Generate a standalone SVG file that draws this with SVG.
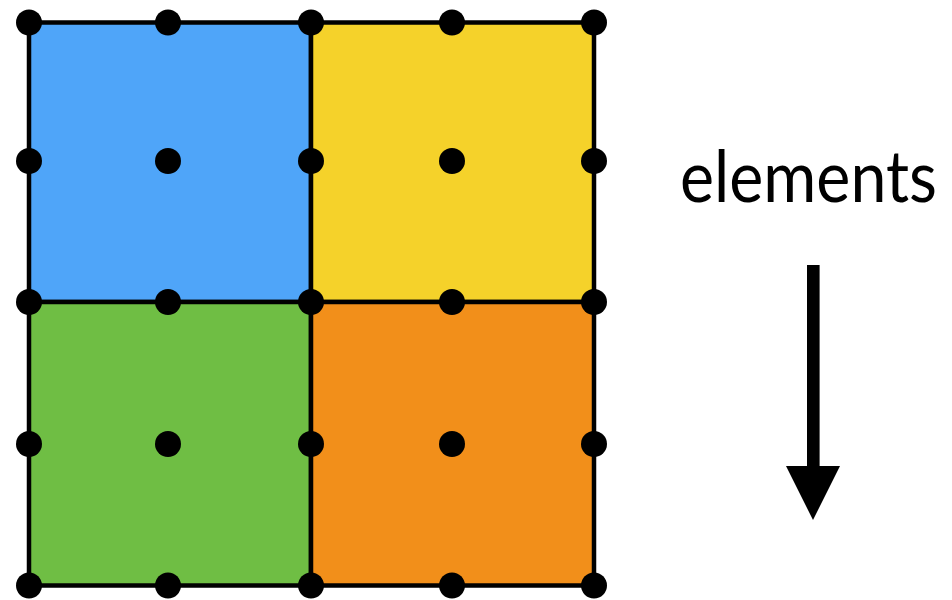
<svg xmlns="http://www.w3.org/2000/svg" width="952" height="600" viewBox="0 0 952 600">
<style>
.cell{stroke:#000;stroke-width:4.5}
.dot{fill:#000}
.lbl{font-family:Lato,"Open Sans",sans-serif;font-size:72px;fill:#000}
</style>
<rect width="952" height="600" fill="#fff"/>
<g id="cell-blue"><rect class="cell" x="29" y="22.5" width="282" height="279.5" fill="#4FA5F9"/></g>
<g id="cell-yellow"><rect class="cell" x="311" y="22.5" width="283" height="279.5" fill="#F5D22A"/></g>
<g id="cell-green"><rect class="cell" x="29" y="302" width="282" height="283.5" fill="#6FBE44"/></g>
<g id="cell-orange"><rect class="cell" x="311" y="302" width="283" height="283.5" fill="#F28F1A"/></g>
<g id="dots">
<circle class="dot" cx="29" cy="22.5" r="13"/><circle class="dot" cx="168" cy="22.5" r="13"/><circle class="dot" cx="311" cy="22.5" r="13"/><circle class="dot" cx="452" cy="22.5" r="13"/><circle class="dot" cx="594" cy="22.5" r="13"/>
<circle class="dot" cx="29" cy="161" r="13"/><circle class="dot" cx="168" cy="161" r="13"/><circle class="dot" cx="311" cy="161" r="13"/><circle class="dot" cx="452" cy="161" r="13"/><circle class="dot" cx="594" cy="161" r="13"/>
<circle class="dot" cx="29" cy="302" r="13"/><circle class="dot" cx="168" cy="302" r="13"/><circle class="dot" cx="311" cy="302" r="13"/><circle class="dot" cx="452" cy="302" r="13"/><circle class="dot" cx="594" cy="302" r="13"/>
<circle class="dot" cx="29" cy="444" r="13"/><circle class="dot" cx="168" cy="444" r="13"/><circle class="dot" cx="311" cy="444" r="13"/><circle class="dot" cx="452" cy="444" r="13"/><circle class="dot" cx="594" cy="444" r="13"/>
<circle class="dot" cx="29" cy="585.5" r="13"/><circle class="dot" cx="168" cy="585.5" r="13"/><circle class="dot" cx="311" cy="585.5" r="13"/><circle class="dot" cx="452" cy="585.5" r="13"/><circle class="dot" cx="594" cy="585.5" r="13"/>
</g>
<g id="label"><text class="lbl" x="680" y="202" textLength="257" lengthAdjust="spacingAndGlyphs">elements</text></g>
<g id="connectors">
<rect x="807" y="265" width="12.6" height="202" fill="#000"/>
<polygon points="786,466 840,466 813,520" fill="#000"/>
</g>
</svg>
